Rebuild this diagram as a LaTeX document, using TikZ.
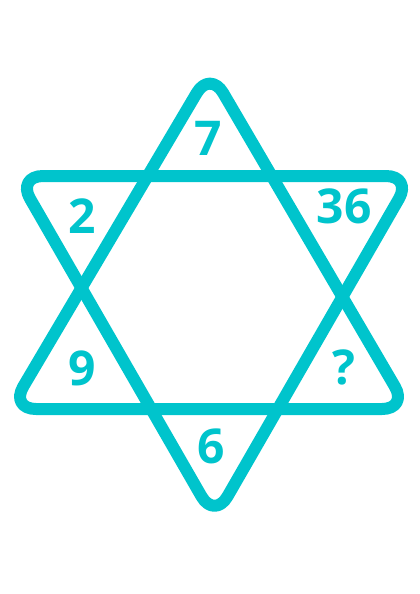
\documentclass[tikz,border=0pt]{standalone}
\usepackage{fontspec}
\setmainfont{Open Sans}
\usepackage{tikz}
\definecolor{startcyan}{RGB}{0, 196, 204}

\begin{document}
\begin{tikzpicture}[
    x=1pt, y=-1pt,
    edge/.style={draw=startcyan, line width=12pt, rounded corners=26pt, line join=round},
    num/.style={text=startcyan, font=\fontsize{48}{48}\selectfont\bfseries, inner sep=0pt, anchor=center},
]
\useasboundingbox (0,0) rectangle (420,594);

% --- upward triangle ---
\draw[edge] (210,70.5) -- (10,409) -- (408,409) -- cycle;
% --- downward triangle ---
\draw[edge] (17,176) -- (412,176) -- (214.5,519) -- cycle;

% --- numbers ---
\node[num] (top) at (208,138) {7};
\node[num] (upleft) at (82,216) {2};
\node[num] (upright) at (344,206) {36};
\node[num] (lowleft) at (82,368) {9};
\node[num] (lowright) at (344,367) {?};
\node[num] (bottom) at (211,446) {6};

\end{tikzpicture}
\end{document}
